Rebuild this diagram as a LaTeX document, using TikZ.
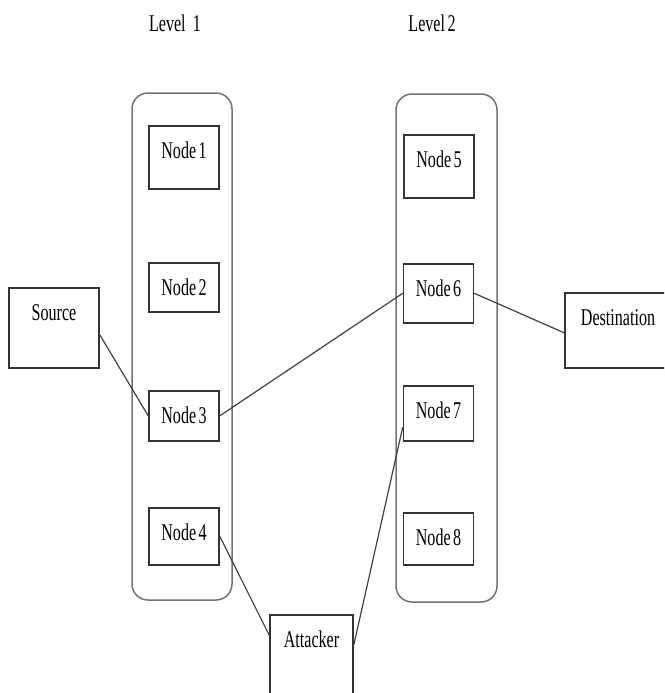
\documentclass[tikz,border=0pt]{standalone}
\usepackage{fontspec}
\setmainfont[FakeStretch=0.67,WordSpace=0.6]{Liberation Serif}

\begin{document}
\begin{tikzpicture}[
    x=1pt, y=-1pt,
    font=\fontsize{24}{28}\selectfont,
    grp/.style={draw=black!55, line width=1.5pt, rounded corners=16pt,
                minimum width=100pt, inner sep=0pt},
    nd/.style={draw=black!80, line width=1.6pt, inner sep=0pt, anchor=north,
               text height=33pt, minimum width=70pt},
    lnk/.style={draw=black!75, line width=1.2pt},
    ]
\clip (0,0) rectangle (664,693);

\node (lv1) at (175,23) {Level~~~1};
\node (lv2) at (432,23) {Level 2};

\node[grp, minimum height=507pt] (col1) at (182,346.5) {};
\node[grp, minimum width=101pt, minimum height=508pt] (col2) at (446.5,348) {};

\node[nd, text depth=30pt] (n1) at (184,125) {Node 1};
\node[nd, text depth=16pt] (n2) at (184,262) {Node 2};
\node[nd, text depth=17pt] (n3) at (184,390) {Node 3};
\node[nd, text depth=24pt] (n4) at (184,507) {Node 4};
\node[nd, text depth=30pt] (n5) at (439,134) {Node 5};
\node[nd, text depth=26pt] (n6) at (438.5,263) {Node 6};
\node[nd, text depth=22pt] (n7) at (438.5,385) {Node 7};
\node[nd, text depth=19pt] (n8) at (438.5,512) {Node 8};

\node[nd, minimum width=90pt, text depth=47pt] (src) at (54,287) {Source};
\node[nd, minimum width=106pt, text depth=42pt] (dst) at (618,292) {Destination};
\node[nd, minimum width=83pt, text depth=53pt] (att) at (311.5,614) {Attacker};

\draw[lnk] ([yshift=-7pt]src.east) -- (n3.west);
\draw[lnk] (n3.east) -- (n6.west);
\draw[lnk] (n6.east) -- ([yshift=-2.5pt]dst.west);
\draw[lnk] (n4.east) -- ([yshift=-21pt]att.north west);
\draw[lnk] ([yshift=-31pt]att.north east) -- ([yshift=-14pt]n7.west);
\end{tikzpicture}
\end{document}
